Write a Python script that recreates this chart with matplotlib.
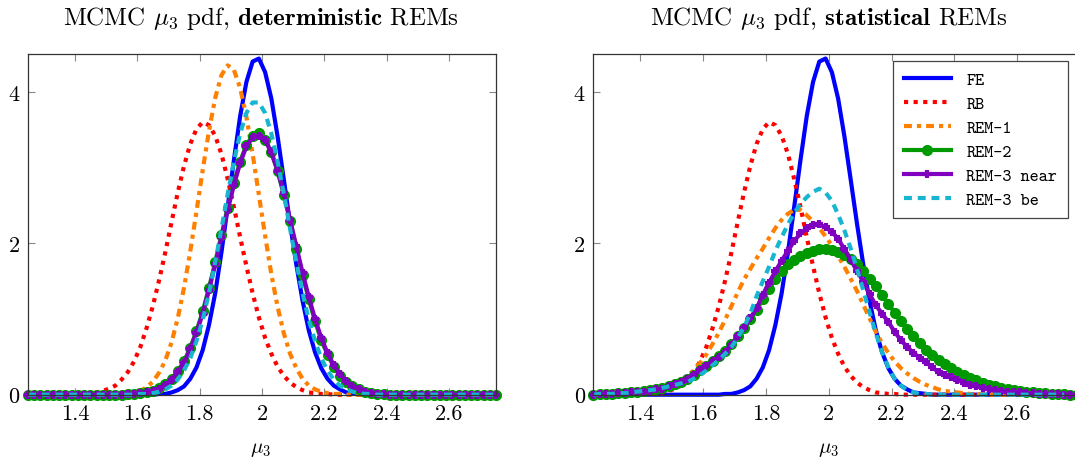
import numpy as np
import matplotlib.pyplot as plt

plt.rcParams["font.family"] = "serif"
plt.rcParams["font.serif"] = ["cmr10"]
plt.rcParams["mathtext.fontset"] = "cm"
plt.rcParams["axes.formatter.use_mathtext"] = True

# mu_3 sample points (the right panel curves run on past its frame)
mu3 = np.linspace(1.25, 2.75, 76)
mu3_ext = np.linspace(1.25, 2.81, 79)

# pdf values, 0.02 apart
fe = [0, 0, 0, 0, 0, 0, 0, 0, 0, 0,
      0, 0, 0, 0, 0, 0, 0, 0, 0, 0,
      0.00, 0.01, 0.01, 0.03, 0.06, 0.11, 0.21, 0.36, 0.59, 0.92,
      1.34, 1.88, 2.48, 3.10, 3.68, 4.13, 4.40, 4.44, 4.26, 3.91,
      3.41, 2.84, 2.26, 1.72, 1.24, 0.85, 0.56, 0.35, 0.21, 0.12,
      0.07, 0.03, 0.02, 0.01, 0, 0, 0, 0, 0, 0,
      0, 0, 0, 0, 0, 0, 0, 0, 0, 0,
      0, 0, 0, 0, 0, 0]
rb = [0, 0, 0, 0, 0, 0, 0, 0.00, 0.01, 0.01,
      0.02, 0.03, 0.05, 0.08, 0.12, 0.20, 0.30, 0.44, 0.63, 0.88,
      1.17, 1.51, 1.88, 2.28, 2.67, 3.02, 3.31, 3.51, 3.60, 3.56,
      3.42, 3.18, 2.85, 2.48, 2.08, 1.70, 1.34, 1.02, 0.75, 0.54,
      0.37, 0.25, 0.16, 0.10, 0.06, 0.03, 0.02, 0.01, 0.01, 0,
      0, 0, 0, 0, 0, 0, 0, 0, 0, 0,
      0, 0, 0, 0, 0, 0, 0, 0, 0, 0,
      0, 0, 0, 0, 0, 0]

# deterministic REMs
rem1_det = [0, 0, 0, 0, 0, 0, 0, 0, 0, 0,
            0, 0, 0, 0, 0, 0.01, 0.01, 0.03, 0.05, 0.10,
            0.17, 0.29, 0.45, 0.69, 1.01, 1.41, 1.89, 2.42, 2.97, 3.48,
            3.92, 4.22, 4.35, 4.29, 4.05, 3.67, 3.18, 2.64, 2.10, 1.59,
            1.16, 0.81, 0.54, 0.35, 0.21, 0.12, 0.07, 0.04, 0.02, 0.01,
            0.01, 0, 0, 0, 0, 0, 0, 0, 0, 0,
            0, 0, 0, 0, 0, 0, 0, 0, 0, 0,
            0, 0, 0, 0, 0, 0]
rem2_det = [0, 0, 0, 0, 0, 0, 0, 0, 0, 0,
            0, 0, 0, 0, 0, 0, 0.01, 0.01, 0.02, 0.03,
            0.05, 0.09, 0.14, 0.21, 0.31, 0.44, 0.62, 0.84, 1.10, 1.41,
            1.75, 2.11, 2.47, 2.80, 3.08, 3.30, 3.42, 3.45, 3.37, 3.20,
            2.95, 2.64, 2.29, 1.93, 1.58, 1.26, 0.97, 0.72, 0.53, 0.37,
            0.25, 0.17, 0.11, 0.07, 0.04, 0.02, 0.01, 0.01, 0, 0,
            0, 0, 0, 0, 0, 0, 0, 0, 0, 0,
            0, 0, 0, 0, 0, 0]
rem3n_det = [0, 0, 0, 0, 0, 0, 0, 0, 0, 0,
             0, 0, 0, 0, 0, 0, 0.01, 0.01, 0.02, 0.03,
             0.05, 0.08, 0.13, 0.20, 0.30, 0.42, 0.60, 0.82, 1.07, 1.38,
             1.72, 2.08, 2.44, 2.77, 3.06, 3.28, 3.40, 3.42, 3.36, 3.20,
             2.96, 2.66, 2.31, 1.96, 1.61, 1.29, 1.00, 0.75, 0.55, 0.39,
             0.27, 0.18, 0.12, 0.07, 0.04, 0.02, 0.01, 0.01, 0, 0,
             0, 0, 0, 0, 0, 0, 0, 0, 0, 0,
             0, 0, 0, 0, 0, 0]
rem3b_det = [0, 0, 0, 0, 0, 0, 0, 0, 0, 0,
             0, 0, 0, 0, 0, 0, 0, 0, 0.01, 0.01,
             0.02, 0.04, 0.07, 0.12, 0.20, 0.32, 0.48, 0.71, 0.99, 1.34,
             1.75, 2.19, 2.65, 3.08, 3.45, 3.72, 3.86, 3.86, 3.72, 3.45,
             3.08, 2.65, 2.19, 1.75, 1.34, 0.99, 0.71, 0.48, 0.32, 0.20,
             0.12, 0.07, 0.04, 0.02, 0.01, 0.01, 0, 0, 0, 0,
             0, 0, 0, 0, 0, 0, 0, 0, 0, 0,
             0, 0, 0, 0, 0, 0]

# statistical REMs
rem1_stat = [0.00, 0.00, 0.01, 0.01, 0.01, 0.02, 0.03, 0.04, 0.05, 0.06,
             0.08, 0.10, 0.12, 0.15, 0.19, 0.25, 0.32, 0.42, 0.53, 0.67,
             0.82, 0.99, 1.17, 1.35, 1.52, 1.66, 1.80, 1.93, 2.07, 2.20,
             2.31, 2.39, 2.44, 2.44, 2.37, 2.29, 2.20, 2.09, 1.97, 1.83,
             1.69, 1.53, 1.37, 1.19, 1.01, 0.83, 0.68, 0.55, 0.44, 0.35,
             0.28, 0.22, 0.17, 0.13, 0.10, 0.07, 0.05, 0.04, 0.03, 0.02,
             0.01, 0.01, 0, 0, 0, 0, 0, 0, 0, 0,
             0, 0, 0, 0, 0, 0]
rem2_stat = [0.00, 0.01, 0.01, 0.01, 0.02, 0.02, 0.03, 0.04, 0.05, 0.06,
             0.07, 0.09, 0.11, 0.14, 0.17, 0.21, 0.26, 0.32, 0.38, 0.44,
             0.51, 0.58, 0.67, 0.77, 0.88, 1.00, 1.12, 1.26, 1.40, 1.53,
             1.64, 1.72, 1.78, 1.83, 1.87, 1.90, 1.92, 1.92, 1.91, 1.88,
             1.84, 1.79, 1.72, 1.63, 1.53, 1.43, 1.32, 1.20, 1.08, 0.97,
             0.87, 0.77, 0.68, 0.59, 0.52, 0.46, 0.40, 0.35, 0.30, 0.26,
             0.22, 0.19, 0.16, 0.13, 0.11, 0.09, 0.07, 0.06, 0.05, 0.04,
             0.03, 0.02, 0.02, 0.01, 0.01, 0.01, 0.00, 0.00, 0.00]
rem3n_stat = [0.00, 0.01, 0.01, 0.01, 0.02, 0.02, 0.03, 0.04, 0.04, 0.05,
              0.07, 0.08, 0.11, 0.14, 0.17, 0.21, 0.26, 0.32, 0.38, 0.44,
              0.50, 0.57, 0.66, 0.77, 0.88, 1.01, 1.14, 1.32, 1.48, 1.63,
              1.77, 1.90, 2.03, 2.13, 2.20, 2.24, 2.25, 2.21, 2.15, 2.06,
              1.92, 1.78, 1.64, 1.49, 1.33, 1.18, 1.07, 0.96, 0.83, 0.72,
              0.63, 0.55, 0.49, 0.43, 0.36, 0.30, 0.26, 0.23, 0.20, 0.16,
              0.13, 0.11, 0.09, 0.07, 0.06, 0.05, 0.04, 0.03, 0.03, 0.02,
              0.02, 0.01, 0.01, 0.01, 0.01, 0.00, 0.00, 0.00, 0.00]
rem3b_stat = [0.00, 0.01, 0.01, 0.01, 0.02, 0.02, 0.03, 0.04, 0.05, 0.06,
              0.07, 0.09, 0.11, 0.13, 0.15, 0.17, 0.21, 0.26, 0.32, 0.39,
              0.46, 0.54, 0.63, 0.75, 0.89, 1.07, 1.30, 1.50, 1.69, 1.90,
              2.08, 2.25, 2.40, 2.52, 2.61, 2.68, 2.72, 2.67, 2.56, 2.38,
              2.17, 1.93, 1.66, 1.38, 1.09, 0.81, 0.56, 0.36, 0.21, 0.12,
              0.06, 0.03, 0.01, 0.01, 0, 0, 0, 0, 0, 0,
              0, 0, 0, 0, 0, 0, 0, 0, 0, 0,
              0, 0, 0, 0, 0, 0]

BLUE = "#0000ff"
RED = "#ff0000"
ORANGE = "#ff8000"
GREEN = "#009900"
PURPLE = "#7f00bf"
CYAN = "#17b5d0"


def draw_panel(ax, rem1, rem2, rem3n, rem3b, x23):
    ax.plot(mu3, fe, color=BLUE, lw=3, label="FE", clip_on=False)
    ax.plot(mu3, rb, color=RED, lw=3, ls=(0, (1, 1.3)), label="RB", clip_on=False)
    ax.plot(mu3, rem1, color=ORANGE, lw=3, ls=(0, (1.9, 1.2, 1, 1.2)),
            label="REM-1", clip_on=False)
    ax.plot(x23, rem2, color=GREEN, lw=3, marker="o", ms=7,
            label="REM-2", clip_on=False)
    ax.plot(x23, rem3n, color=PURPLE, lw=3, marker="+", ms=6, mew=3,
            label="REM-3 near", clip_on=False)
    ax.plot(mu3, rem3b, color=CYAN, lw=3, ls=(0, (1.9, 1.4)),
            label="REM-3 be", clip_on=False)

    ax.set_ylim(0, 4.5)
    ax.set_xticks([1.4, 1.6, 1.8, 2.0, 2.2, 2.4, 2.6])
    ax.set_xticklabels(["1.4", "1.6", "1.8", "2", "2.2", "2.4", "2.6"])
    ax.set_yticks([0, 2, 4])
    ax.set_yticklabels(["0", "2", "4"])
    ax.tick_params(direction="in", top=True, right=True, length=5, width=0.8,
                   color="#888888", labelsize=16, pad=6)
    for s in ax.spines.values():
        s.set_color("#333333")
        s.set_linewidth(0.9)


fig = plt.figure(figsize=(10.75, 4.6), dpi=100)
ax1 = fig.add_axes([28 / 1075, 64.3 / 460, 468 / 1075, 340.7 / 460])
ax2 = fig.add_axes([593.3 / 1075, 64.3 / 460, 489.7 / 1075, 340.7 / 460])

draw_panel(ax1, rem1_det, rem2_det, rem3n_det, rem3b_det, mu3)
ax1.set_xlim(1.25, 2.75)
draw_panel(ax2, rem1_stat, rem2_stat, rem3n_stat, rem3b_stat, mu3_ext)
ax2.set_xlim(1.25, 2.81)

fig.text(261 / 1075, 1 - 18 / 460, r"MCMC $\mu_3$ pdf, $\mathbf{deterministic}$ REMs",
         ha="center", va="center", fontsize=18)
fig.text(829 / 1075, 1 - 18 / 460, r"MCMC $\mu_3$ pdf, $\mathbf{statistical}$ REMs",
         ha="center", va="center", fontsize=18)
fig.text(261 / 1075, 1 - 450 / 460, r"$\mu_3$", ha="center", va="center", fontsize=15)
fig.text(829 / 1075, 1 - 450 / 460, r"$\mu_3$", ha="center", va="center", fontsize=15)

leg = ax2.legend(loc="upper left", bbox_to_anchor=(893.3 / 1075, 1 - 62.3 / 460),
                 bbox_transform=fig.transFigure, borderaxespad=0,
                 prop={"family": "cmtt10", "size": 12.5},
                 handlelength=2.7, handletextpad=0.9, labelspacing=0.45,
                 borderpad=0.6, fancybox=False, framealpha=1, edgecolor="#444444")
leg.get_frame().set_linewidth(0.9)

fig.savefig("out.png", dpi=100)
